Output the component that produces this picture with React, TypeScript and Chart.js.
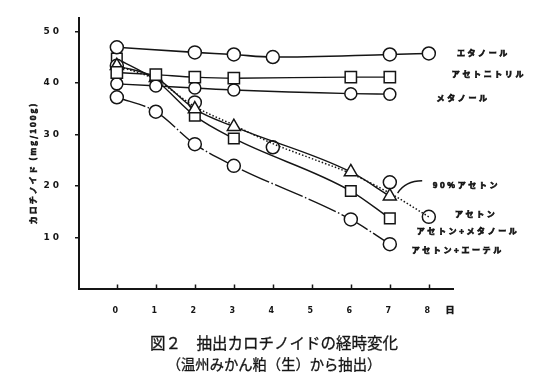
import React, { useEffect, useRef } from "react";
import { Chart, registerables } from "chart.js";

Chart.register(...registerables);

// ---- data ----
const xTicks = [0, 1, 2, 3, 4, 5, 6, 7, 8];
const yTicks = [10, 20, 30, 40, 50];

const ethanolDays = [0, 2, 3, 4, 7, 8];
const ethanolVals = [46.9, 45.9, 45.5, 45.0, 45.5, 45.7];

const acetonitrileDays = [0, 1, 2, 3, 6, 7];
const acetonitrileVals = [42.0, 41.6, 41.1, 40.9, 41.1, 41.1];

const methanolDays = [0, 1, 2, 3, 6, 7];
const methanolVals = [39.8, 39.4, 39.0, 38.6, 37.9, 37.8];

const acetone90Days = [0, 1, 2, 3, 6, 7];
const acetone90Vals = [43.3, 41.0, 34.9, 31.5, 22.7, 18.0];

const acetoneDays = [0, 2, 4, 7, 8];
const acetoneVals = [43.3, 36.2, 27.5, 20.7, 14.0];
const acetoneFitDays = [0, 1, 2, 3, 4, 5, 6, 7, 8];
const acetoneFitVals = [43.3, 40.6, 35.4, 31.8, 28.2, 25.3, 22.4, 18.6, 14.0];

const acMethDays = [0, 1, 2, 3, 6, 7];
const acMethVals = [44.7, 40.5, 33.6, 29.2, 19.0, 13.7];

const acEtherDays = [0, 1, 2, 3, 6, 7];
const acEtherVals = [37.2, 34.4, 28.1, 23.9, 13.5, 8.7];

const seriesLabels = [
  "エタノール",
  "アセトニトリル",
  "メタノール",
  "90%アセトン",
  "アセトン",
  "アセトン+メタノール",
  "アセトン+エーテル",
];
// label anchor (day, value) for each series label, same order
const labelAnchorDays = [8.72, 8.59, 8.2, 8.1, 8.67, 7.69, 7.56];
const labelAnchorVals = [45.75, 41.7, 37.05, 20.2, 14.6, 11.35, 7.5];

const yTitle = "カロチノイド (mg/100g)";
const xUnit = "日";
const titleLine1 = "図２　抽出カロチノイドの経時変化";
const titleLine2 = "（温州みかん粕（生）から抽出）";

const zip = (xs: number[], ys: number[]) => xs.map((x, i) => ({ x, y: ys[i] }));

const INK = "#151515";

const marker = (style: string, radius: number) => ({
  pointStyle: style,
  pointRadius: radius,
  pointHoverRadius: radius,
  pointBackgroundColor: "#fff",
  pointBorderColor: INK,
  pointBorderWidth: 1.5,
});

const heavyText = (ctx: any, t: string, x: number, y: number, w: number) => {
  ctx.lineWidth = w;
  ctx.strokeText(t, x, y);
  ctx.fillText(t, x, y);
};

const annotate = {
  id: "annotate",
  beforeDraw(chart: any) {
    chart.ctx.letterSpacing = "3px";
  },
  beforeDatasetsDraw(chart: any) {
    chart.ctx.letterSpacing = "0px";
  },
  afterDraw(chart: any) {
    const ctx = chart.ctx;
    const xs = chart.scales.x;
    const ys = chart.scales.y;
    const area = chart.chartArea;
    ctx.save();
    ctx.letterSpacing = "0px";
    // x ticks pointing up into the plot
    ctx.strokeStyle = INK;
    ctx.lineWidth = 1.5;
    xTicks.forEach((v) => {
      const px = Math.round(xs.getPixelForValue(v)) + 0.5;
      ctx.beginPath();
      ctx.moveTo(px, area.bottom);
      ctx.lineTo(px, area.bottom - 4.5);
      ctx.stroke();
    });
    // unit "日"
    ctx.fillStyle = INK;
    ctx.font = "bold 9px 'Noto Sans CJK JP'";
    ctx.textAlign = "center";
    ctx.textBaseline = "middle";
    heavyText(ctx, xUnit, xs.getPixelForValue(8.54), area.bottom + 21, 0.5);

    // series labels
    ctx.font = "bold 8px 'Noto Sans CJK JP'";
    ctx.letterSpacing = "2.6px";
    ctx.textAlign = "left";
    seriesLabels.forEach((t, i) => {
      heavyText(ctx, t, xs.getPixelForValue(labelAnchorDays[i]), ys.getPixelForValue(labelAnchorVals[i]), 0.7);
    });
    ctx.letterSpacing = "0px";

    // pointer from 90% acetone label
    ctx.lineWidth = 1.4;
    ctx.beginPath();
    ctx.moveTo(xs.getPixelForValue(7.83), ys.getPixelForValue(21.0));
    ctx.quadraticCurveTo(
      xs.getPixelForValue(7.4),
      ys.getPixelForValue(21.0),
      xs.getPixelForValue(7.2),
      ys.getPixelForValue(18.6)
    );
    ctx.stroke();

    // y axis title
    ctx.save();
    ctx.translate(33, 163);
    ctx.rotate(-Math.PI / 2);
    ctx.font = "bold 8px 'Noto Sans CJK JP'";
    ctx.letterSpacing = "2px";
    ctx.textAlign = "center";
    ctx.textBaseline = "middle";
    heavyText(ctx, yTitle, 0, 0, 0.6);
    ctx.restore();

    // figure caption
    ctx.letterSpacing = "0px";
    ctx.textAlign = "center";
    ctx.textBaseline = "middle";
    ctx.font = "15.5px 'Noto Sans CJK JP'";
    heavyText(ctx, titleLine1, chart.width / 2, 343, 0.3);
    ctx.font = "14.3px 'Noto Sans CJK JP'";
    heavyText(ctx, titleLine2, chart.width / 2, 365, 0.3);
    ctx.restore();
  },
};

export default function App() {
  const ref = useRef<HTMLCanvasElement | null>(null);
  useEffect(() => {
    document.body.style.margin = "0";
    const canvas = ref.current;
    if (!canvas) return;
    const line = { borderColor: INK, borderWidth: 1.4, cubicInterpolationMode: "monotone" as const, fill: false };
    const chart = new Chart(canvas, {
      type: "line",
      data: {
        datasets: [
          { label: seriesLabels[0], data: zip(ethanolDays, ethanolVals), ...line, borderWidth: 1.6, ...marker("circle", 6.5) },
          { label: seriesLabels[1], data: zip(acetonitrileDays, acetonitrileVals), ...line, ...marker("rect", 8) },
          { label: seriesLabels[2], data: zip(methanolDays, methanolVals), ...line, ...marker("circle", 6) },
          { label: seriesLabels[3], data: zip(acetone90Days, acetone90Vals), ...line, ...marker("triangle", 7.5) },
          { label: seriesLabels[4] + " fit", data: zip(acetoneFitDays, acetoneFitVals), ...line, borderWidth: 1.5, borderDash: [1.5, 2], pointRadius: 0, pointHoverRadius: 0 },
          { label: seriesLabels[4], data: zip(acetoneDays, acetoneVals), showLine: false, ...marker("circle", 6.5) },
          { label: seriesLabels[5], data: zip(acMethDays, acMethVals), ...line, ...marker("rect", 7.5) },
          { label: seriesLabels[6], data: zip(acEtherDays, acEtherVals), ...line, borderDash: [30, 2.5, 1.5, 2.5], ...marker("circle", 6.5) },
        ],
      },
      options: {
        responsive: false,
        animation: false,
        devicePixelRatio: 1,
        layout: { padding: { left: 0, top: 17, right: 95, bottom: 66 } },
        plugins: { legend: { display: false }, tooltip: { enabled: false }, title: { display: false } },
        scales: {
          x: {
            type: "linear",
            min: -0.97,
            max: 8.62,
            afterBuildTicks: (s: any) => {
              s.ticks = xTicks.map((v) => ({ value: v }));
            },
            afterFit: (s: any) => {
              s.height = 30;
            },
            grid: { display: true, drawOnChartArea: false, drawTicks: false },
            border: { display: true, color: INK, width: 2 },
            ticks: { color: INK, padding: 17, font: { family: "'DejaVu Sans'", size: 8, weight: "bold" }, maxRotation: 0, autoSkip: false },
          },
          y: {
            min: 0,
            max: 52.5,
            afterBuildTicks: (s: any) => {
              s.ticks = yTicks.map((v) => ({ value: v }));
            },
            afterFit: (s: any) => {
              s.width = 79;
            },
            grid: { display: true, drawOnChartArea: false, drawTicks: true, tickLength: 4, color: INK, lineWidth: 1.5 },
            border: { display: true, color: INK, width: 2 },
            ticks: { color: INK, padding: 13, font: { family: "'DejaVu Sans'", size: 9, weight: "bold" } },
          },
        },
      },
      plugins: [annotate],
    } as any);
    return () => chart.destroy();
  }, []);
  return (
    <div style={{ width: 548, height: 385, background: "#fff" }}>
      <canvas ref={ref} width={548} height={385} />
    </div>
  );
}
